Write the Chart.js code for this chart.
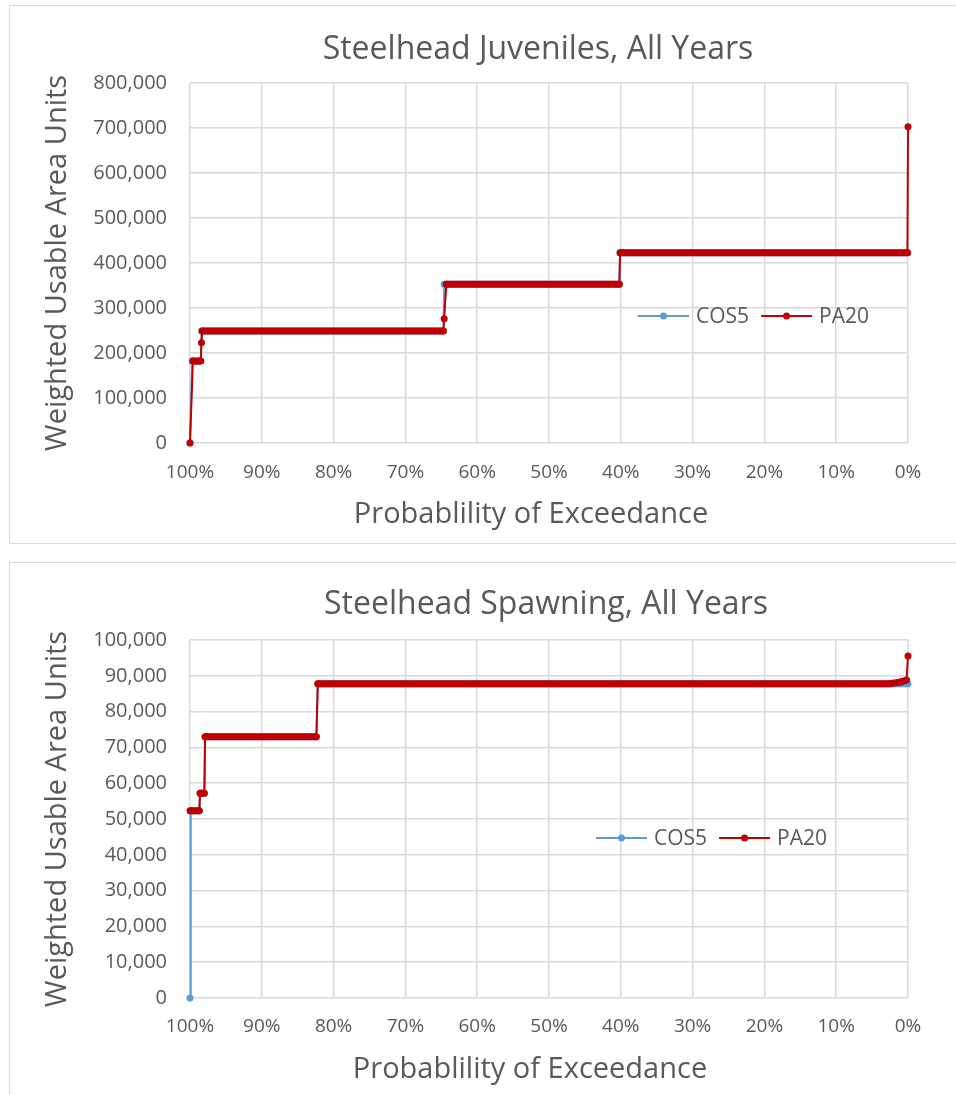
<!DOCTYPE html>
<html>
<head>
<meta charset="utf-8">
<title>Steelhead WUA exceedance</title>
<script src="https://cdn.jsdelivr.net/npm/chart.js@4.4.1/dist/chart.umd.min.js"></script>
<style>
  body { margin: 0; background: #fff; overflow: hidden; }
  .box { position: absolute; left: 9px; width: 960px; border: 1px solid #d9d9d9; background: #fff; }
  #boxTop { top: 5px; height: 537px; }
  #boxBottom { top: 562px; height: 540px; }
  canvas { display: block; }
</style>
</head>
<body>
<div class="box" id="boxTop"><canvas id="juvChart" width="946" height="537"></canvas></div>
<div class="box" id="boxBottom"><canvas id="spwChart" width="946" height="532"></canvas></div>
<script>
const blueAccent = "#5B9BD5";
const redAccent = "#C00000";
const textGray = "#595959";
const gridGray = "#d9d9d9";
const fontFamily = "'Open Sans'";

// Juveniles - probability of exceedance (%) and WUA
const juvCos5Pct = [100, 99.7, 98.5, 98.4, 64.7, 64.6, 40.2, 40.1, 0];
const juvCos5Wua = [0, 182000, 182000, 249000, 249000, 353000, 353000, 423000, 423000];
const juvPa20Pct = [100, 99.6, 98.5, 98.4, 98.3, 64.7, 64.6, 64.3, 40.2, 40.1, 0.08, 0];
const juvPa20Wua = [0, 182000, 182000, 223000, 249000, 249000, 276000, 353000, 353000, 423000, 423000, 703000];
const juvYTicks = [0, 100000, 200000, 300000, 400000, 500000, 600000, 700000, 800000];

// Spawning
const spwCos5Pct = [100, 99.9, 98.7, 98.6, 98.0, 97.9, 82.4, 82.2, 0];
const spwCos5Wua = [0, 52300, 52300, 57200, 57200, 73000, 73000, 87800, 87800];
const spwPa20Pct = [100, 98.7, 98.6, 98.0, 97.9, 82.4, 82.2, 2.5, 1.0, 0.2, 0];
const spwPa20Wua = [52300, 52300, 57200, 57200, 73000, 73000, 87800, 87800, 88300, 88800, 95500];
const spwYTicks = [0, 10000, 20000, 30000, 40000, 50000, 60000, 70000, 80000, 90000, 100000];

const xTicks = [100, 90, 80, 70, 60, 50, 40, 30, 20, 10, 0];
const seriesNames = ["COS5", "PA20"];
const xTitle = "Probablility of Exceedance";
const yTitle = "Weighted Usable Area Units";

function toPoints(xs, ys) {
  return xs.map((x, i) => ({ x: x, y: ys[i] }));
}

// dense data in the original makes flat runs look like a thick band
function segWidth(ctx) {
  const dx = Math.abs(ctx.p1.x - ctx.p0.x);
  const dy = Math.abs(ctx.p1.y - ctx.p0.y);
  return dy < dx ? 7 : 2;
}

function lineSet(label, pts, color, order) {
  return {
    label: label,
    data: pts,
    borderColor: color,
    backgroundColor: color,
    borderWidth: 2,
    pointRadius: 3.5,
    pointBorderWidth: 0,
    pointHoverRadius: 3.5,
    tension: 0,
    clip: false,
    order: order,
    segment: { borderWidth: segWidth },
  };
}

// title, x title and legend drawn by hand so they sit where Excel put them
function decorPlugin(title, lay) {
  return {
    id: "excelDecor",
    afterDraw(chart) {
      const ctx = chart.ctx;
      ctx.save();
      ctx.fillStyle = textGray;
      ctx.textAlign = "center";
      ctx.textBaseline = "middle";
      ctx.font = "32px " + fontFamily;
      ctx.fillText(title, lay.titleX, lay.titleY);
      ctx.font = "29px " + fontFamily;
      ctx.fillText(xTitle, lay.xTitleX, lay.xTitleY);

      const colors = [blueAccent, redAccent];
      ctx.textAlign = "left";
      ctx.font = "21px " + fontFamily;
      let x = lay.legendX;
      const midY = lay.legendY;
      seriesNames.forEach((name, i) => {
        ctx.strokeStyle = colors[i];
        ctx.lineWidth = 2;
        ctx.beginPath();
        ctx.moveTo(x, midY);
        ctx.lineTo(x + 51, midY);
        ctx.stroke();
        ctx.fillStyle = colors[i];
        ctx.beginPath();
        ctx.arc(x + 25.5, midY, 3.5, 0, Math.PI * 2);
        ctx.fill();
        ctx.fillStyle = textGray;
        ctx.fillText(name, x + 58, midY + 1);
        x += 58 + ctx.measureText(name).width + 12;
      });
      ctx.restore();
    },
  };
}

function chartConfig(canvasId, title, cos5, pa20, yTicks, lay) {
  new Chart(document.getElementById(canvasId), {
    type: "line",
    data: {
      datasets: [
        lineSet(seriesNames[0], cos5, blueAccent, 2),
        lineSet(seriesNames[1], pa20, redAccent, 1),
      ],
    },
    options: {
      responsive: false,
      animation: false,
      events: [],
      layout: { padding: { left: 0, right: 48, top: 77, bottom: 0 } },
      scales: {
        x: {
          type: "linear",
          reverse: true,
          min: 0,
          max: 100,
          afterBuildTicks: (scale) => {
            scale.ticks = xTicks.map((v) => ({ value: v }));
          },
          afterFit: (scale) => {
            scale.height = lay.xHeight;
          },
          grid: { color: gridGray, lineWidth: 1.5, drawTicks: false },
          border: { display: false },
          ticks: {
            padding: lay.xTickPad,
            color: textGray,
            font: { family: fontFamily, size: 19 },
            maxRotation: 0,
            callback: (v) => v + "%",
          },
          title: { display: false },
        },
        y: {
          min: 0,
          max: yTicks[yTicks.length - 1],
          afterBuildTicks: (scale) => {
            scale.ticks = yTicks.map((v) => ({ value: v }));
          },
          afterFit: (scale) => {
            scale.width = 180;
          },
          grid: { color: gridGray, lineWidth: 1.5, drawTicks: false },
          border: { display: false },
          ticks: {
            padding: 23,
            color: textGray,
            font: { family: fontFamily, size: 20 },
            callback: (v) => v.toLocaleString("en-US"),
          },
          title: {
            display: true,
            text: yTitle,
            color: textGray,
            font: { family: fontFamily, size: 29, lineHeight: 1 },
            padding: { top: 33, bottom: 0 },
          },
        },
      },
      plugins: {
        legend: { display: false },
        tooltip: { enabled: false },
        title: { display: false },
      },
    },
    plugins: [decorPlugin(title, lay)],
  });
}

chartConfig(
  "juvChart",
  "Steelhead Juveniles, All Years",
  toPoints(juvCos5Pct, juvCos5Wua),
  toPoints(juvPa20Pct, juvPa20Wua),
  juvYTicks,
  { xHeight: 100, xTickPad: 18, xTitleX: 521, xTitleY: 509, titleX: 528, titleY: 44, legendX: 628, legendY: 310 }
);

chartConfig(
  "spwChart",
  "Steelhead Spawning, All Years",
  toPoints(spwCos5Pct, spwCos5Wua),
  toPoints(spwPa20Pct, spwPa20Wua),
  spwYTicks,
  { xHeight: 97, xTickPad: 17, xTitleX: 520, xTitleY: 507, titleX: 536, titleY: 42, legendX: 586, legendY: 275 }
);
</script>
</body>
</html>
